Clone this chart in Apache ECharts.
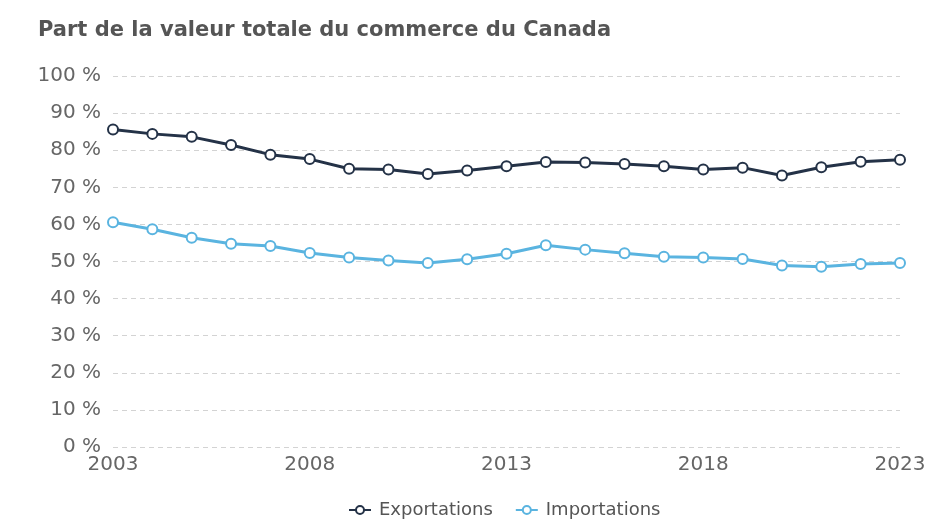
<!DOCTYPE html>
<html>
<head>
<meta charset="utf-8">
<script src="https://cdn.jsdelivr.net/npm/echarts@6/dist/echarts.min.js"></script>
<style>
  html, body { margin: 0; padding: 0; background: #fff; }
  #chart { width: 929px; height: 519px; }
</style>
</head>
<body>
<div id="chart"></div>
<script>
// années
let years = ['2003', '2004', '2005', '2006', '2007', '2008', '2009', '2010', '2011', '2012', '2013',
    '2014', '2015', '2016', '2017', '2018', '2019', '2020', '2021', '2022', '2023'];
// part des exportations (%)
let exportations = [85.6, 84.4, 83.6, 81.4, 78.8, 77.6, 75.0, 74.8, 73.6, 74.5, 75.7,
    76.8, 76.7, 76.3, 75.7, 74.8, 75.3, 73.2, 75.4, 76.9, 77.4];
// part des importations (%)
let importations = [60.6, 58.7, 56.4, 54.8, 54.2, 52.3, 51.1, 50.3, 49.6, 50.6, 52.1,
    54.4, 53.2, 52.2, 51.3, 51.1, 50.7, 48.9, 48.6, 49.3, 49.6];

let myChart = echarts.init(document.getElementById('chart'));
let fontName = 'DejaVu Sans';

let option = {
    animation: false,
    title: {
        text: 'Part de la valeur totale du commerce du Canada',
        left: 33,
        top: 15,
        textStyle: {
            fontFamily: fontName,
            fontSize: 21,
            fontWeight: 'bold',
            color: '#555555'
        }
    },
    legend: {
        top: 496,
        left: 343,
        itemWidth: 22,
        itemHeight: 10,
        itemGap: 22,
        textStyle: {
            fontFamily: fontName,
            fontSize: 18,
            color: '#555555',
            padding: [0, 0, 0, 3]
        },
        data: ['Exportations', 'Importations']
    },
    grid: {
        left: 113,
        right: 29,
        top: 76,
        bottom: 72
    },
    xAxis: {
        type: 'category',
        boundaryGap: false,
        data: years,
        axisLine: { show: false },
        axisTick: { show: false },
        axisLabel: {
            interval: 4,
            margin: 8,
            fontFamily: fontName,
            fontSize: 20,
            color: '#666666'
        }
    },
    yAxis: {
        type: 'value',
        min: 0,
        max: 100,
        interval: 10,
        axisLine: { show: false },
        axisTick: { show: false },
        axisLabel: {
            formatter: '{value} %',
            margin: 12,
            fontFamily: fontName,
            fontSize: 20,
            color: '#666666'
        },
        splitLine: {
            lineStyle: {
                type: [5, 4],
                color: '#d3d3d3'
            }
        }
    },
    series: [{
        name: 'Exportations',
        type: 'line',
        data: exportations,
        symbol: 'circle',
        symbolSize: 10,
        lineStyle: { width: 3, color: '#243247' },
        itemStyle: {
            color: '#ffffff',
            borderColor: '#243247',
            borderWidth: 2
        }
    }, {
        name: 'Importations',
        type: 'line',
        data: importations,
        symbol: 'circle',
        symbolSize: 10,
        lineStyle: { width: 3, color: '#5ab4e0' },
        itemStyle: {
            color: '#ffffff',
            borderColor: '#5ab4e0',
            borderWidth: 2
        }
    }]
};
myChart.setOption(option);
</script>
</body>
</html>
